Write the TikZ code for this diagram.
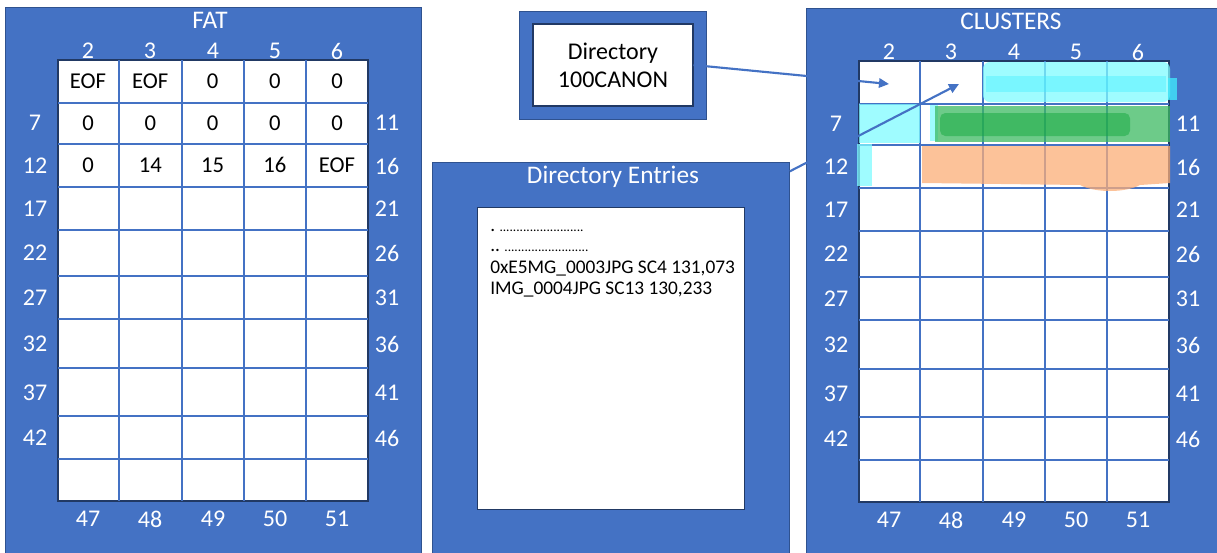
\documentclass[tikz,border=0pt]{standalone}
\usepackage{fontspec}
\setmainfont{Carlito}
\usetikzlibrary{arrows.meta}
\definecolor{officeblue}{HTML}{4472C4}
\definecolor{edgeblue}{HTML}{2F528F}
\definecolor{markcyan}{HTML}{7FFBFF}
\definecolor{markcyandeep}{HTML}{40EEFF}
\definecolor{markgreen}{HTML}{3DBA62}
\definecolor{markgreendeep}{HTML}{14A83E}
\definecolor{markorange}{HTML}{FCAE78}
\begin{document}
\begin{tikzpicture}[x=0.75pt, y=-0.75pt,
    panel/.style={draw=edgeblue, fill=officeblue, line width=0.6pt},
    sheet/.style={draw=edgeblue!70!black, fill=white, line width=0.8pt},
    gridline/.style={officeblue, line width=1.2pt},
    lbl/.style={text=white, font=\fontsize{18}{21}\selectfont},
    ttl/.style={text=white, font=\fontsize{19}{22}\selectfont},
    entry/.style={font=\fontsize{17}{20}\selectfont},
    listing/.style={anchor=west, inner sep=0pt, font=\fontsize{14.5}{17}\selectfont},
    link/.style={officeblue, line width=1.6pt, -{Triangle[length=7.5pt, width=7pt]}},
    marker/.style={fill opacity=0.75, draw=none}]
  \useasboundingbox (0,0) rectangle (1217,553);

  % FAT on the left, the same table again as CLUSTERS on the right
  \foreach \sx/\sy/\pn/\ttl in {0/0/fat/FAT, 801/1/clu/CLUSTERS}{
    \begin{scope}[shift={(\sx,\sy)}]
      \draw[panel] (5,7) rectangle (421,560);
      \node[ttl] (\pn-title) at (210,20) {\ttl};
      \draw[sheet] (58,60) rectangle (368,501);
      \foreach \gx in {119,182,244,306}{
        \draw[gridline] (\gx,60) -- (\gx,501);
      }
      \foreach \gy in {103,144,187,230,276,319,368,416,459}{
        \draw[gridline] (58,\gy) -- (368,\gy);
      }
      \foreach \xc [count=\k from 2] in {88,150,213,275,337}{
        \pgfmathtruncatemacro\b{\k+45}
        \node[lbl] (\pn-top\k) at (\xc,51) {\k};
        \node[lbl] (\pn-bot\k) at (\xc,519) {\b};
        \coordinate (\pn-c\k) at (\xc,83);
      }
      \foreach \n/\yc in {7/123,12/166,17/209,22/253,27/298,32/344,37/393,42/438}{
        \pgfmathtruncatemacro\m{\n+4}
        \node[lbl] (\pn-left\n) at (35,\yc) {\n};
        \node[lbl] (\pn-right\m) at (387,\yc) {\m};
      }
    \end{scope}
  }

  % FAT entries of the first three rows
  \foreach \v [count=\i from 0] in {EOF,EOF,0,0,0,0,0,0,0,0,0,14,15,16,EOF}{
    \pgfmathtruncatemacro\col{mod(\i,5)}
    \pgfmathtruncatemacro\row{int(\i/5)}
    \node[entry] (fat-v\i) at (88+62.25*\col,81+42*\row) {\v};
  }

  % marker strokes over the clusters
  \fill[marker, markcyan, rounded corners=5pt] (983,62) rectangle (1170,102);
  \fill[marker, markcyandeep] (1168,78) rectangle (1177,100);
  \fill[marker, markcyandeep, opacity=0.4] (986,76) rectangle (1166,92);
  \fill[marker, markcyan] (859,104) rectangle (920,143);
  \fill[marker, markcyan] (857,144) rectangle (872,186);
  \fill[marker, markcyan] (930,105) rectangle (938,141);
  \fill[marker, markgreen] (935,106) rectangle (1170,142);
  \fill[marker, markgreendeep, opacity=0.5, rounded corners=4pt] (940,113) rectangle (1130,136);
  \fill[marker, markorange] (922,146) -- (1170,146) -- (1170,183) -- (1140,185)
    .. controls (1125,193) and (1095,193) .. (1080,185) -- (922,183) -- cycle;

  % directory and its entries
  \node[panel, minimum width=140.25pt, minimum height=81pt] (dirpanel) at (612.5,65) {};
  \node[sheet, minimum width=120pt, minimum height=61.5pt, align=center,
        font=\fontsize{18}{21}\selectfont] (dirbox) at (613,65) {Directory\\100CANON};
  \node[panel, minimum width=267.75pt, minimum height=300pt, anchor=north west] (entries) at (432,162) {};
  \node[ttl] (entries-title) at (613,177) {Directory Entries};
  \node[sheet, minimum width=200.25pt, minimum height=226.5pt, anchor=north west] (entrylist) at (477,207) {};
  \node[listing] (e1) at (490,230) {.\ {\fontsize{10}{12}\selectfont .........................}};
  \node[listing] (e2) at (490,250) {..\ {\fontsize{10}{12}\selectfont .........................}};
  \node[listing] (e3) at (490,269) {0xE5MG\_0003JPG SC4 131,073};
  \node[listing] (e4) at (490,290) {IMG\_0004JPG SC13 130,233};

  \draw[link] (dirbox.east) -- (clu-c2);
  \draw[link] ([yshift=-7pt]entries.north east) -- ([xshift=6pt]clu-c3);
\end{tikzpicture}
\end{document}
